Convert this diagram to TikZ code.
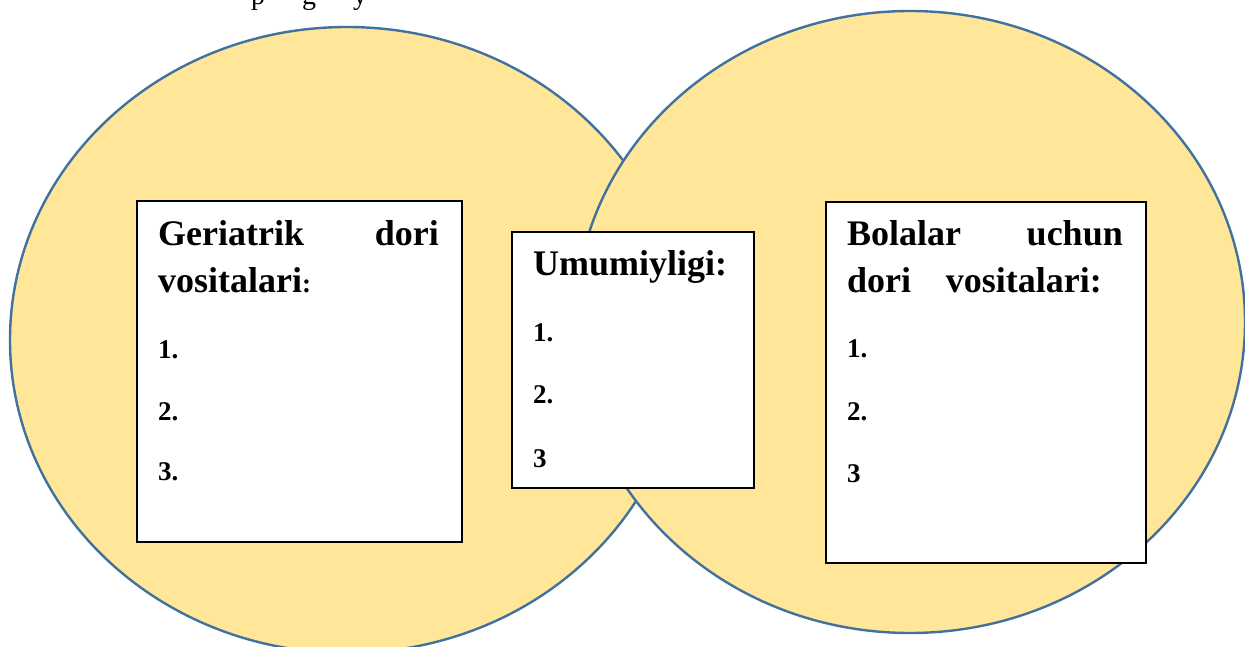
\documentclass[tikz,border=0pt]{standalone}
\usepackage{fontspec}
\setmainfont{Liberation Serif}
\definecolor{vennfill}{HTML}{FFE699}
\definecolor{vennline}{HTML}{41719C}
\begin{document}
\begin{tikzpicture}[x=1pt,y=-1pt,
  venn/.style={fill=vennfill,draw=vennline,line width=2.4pt},
  listbox/.style={draw=black,fill=white,line width=1.8pt,anchor=north west,inner sep=0pt},
  head/.style={anchor=base west,inner sep=0pt,font=\fontsize{36}{40}\selectfont\bfseries},
  headr/.style={head,anchor=base east},
  item/.style={anchor=base west,inner sep=0pt,font=\fontsize{27}{30}\selectfont\bfseries},
  prev/.style={anchor=base west,inner sep=0pt,font=\fontsize{28}{30}\selectfont}]
\useasboundingbox (0,0) rectangle (1245,647);
\begin{scope}
  \clip (0,0) rectangle (1245,647);
  % tail of the preceding text line
  \node[prev] (pa) at (251,5) {p};
  \node[prev] (pb) at (302,5) {g};
  \node[prev] (pc) at (353,5) {y};
  % the two overlapping sets
  \path[venn] (347,340) ellipse [x radius=337pt, y radius=313pt];
  \path[venn] (910,322) ellipse [x radius=335pt, y radius=311pt];
\end{scope}

% left set
\node[listbox, minimum width=325pt, minimum height=341pt] (gbox) at (136,200) {};
\node[head]  (g1a) at (158,245) {Geriatrik};
\node[headr] (g1b) at (439,245) {dori};
\node[head]  (g2)  at (158,292) {vositalari{\fontsize{27}{30}\selectfont:}};
\node[item]  (gi1) at (158,358) {1.};
\node[item]  (gi2) at (158,420) {2.};
\node[item]  (gi3) at (158,480) {3.};

% common part
\node[listbox, minimum width=242pt, minimum height=256pt] (ubox) at (511,231) {};
\node[head]  (u1)  at (533,275) {Umumiyligi:};
\node[item]  (ui1) at (533,341) {1.};
\node[item]  (ui2) at (533,403) {2.};
\node[item]  (ui3) at (533,467) {3};

% right set
\node[listbox, minimum width=320pt, minimum height=361pt] (bbox) at (825,201) {};
\node[head]  (b1a) at (847,245) {Bolalar};
\node[headr] (b1b) at (1123,245) {uchun};
\node[head]  (b2a) at (847,292) {dori};
\node[headr] (b2b) at (1102,292) {vositalari:};
\node[item]  (bi1) at (847,357) {1.};
\node[item]  (bi2) at (847,420) {2.};
\node[item]  (bi3) at (847,482) {3};
\end{tikzpicture}
\end{document}
